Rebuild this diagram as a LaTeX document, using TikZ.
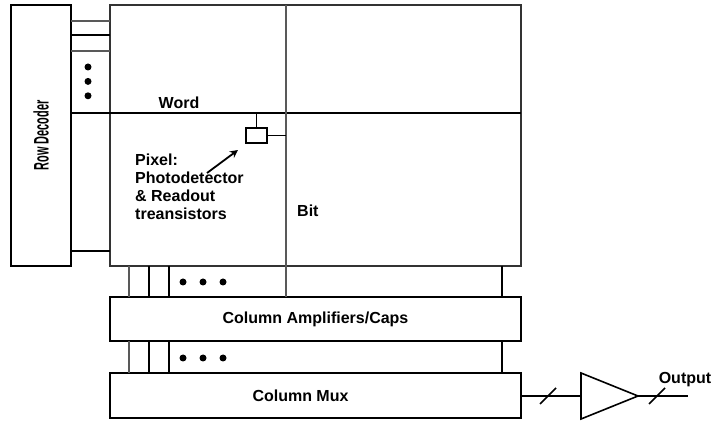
\documentclass[tikz,border=0pt]{standalone}
\usepackage{fontspec}
\setmainfont{Liberation Sans}
\usetikzlibrary{arrows.meta, positioning}

\begin{document}
\begin{tikzpicture}[x=1pt, y=-1pt,
  blk/.style={rectangle, draw=black, line width=1.6pt, inner sep=0pt, outer sep=0pt,
              font=\bfseries\fontsize{16}{18}\selectfont},
  wire/.style={line width=1.6pt, black},
  thin/.style={line width=1.2pt, black!65},
  lbl/.style={font=\bfseries\fontsize{16}{18}\selectfont, inner sep=0pt},
  dot/.style={circle, fill=black, inner sep=0pt, minimum size=7pt},
  arr/.style={-{Stealth[length=8pt, width=8pt]}, line width=1.8pt}]
  \useasboundingbox (0,0) rectangle (713,422);
  \node[blk, minimum width=60pt, minimum height=261pt] (rowdec) at (41,135.5)
    {\rotatebox{90}{\scalebox{0.52}[1]{\fontsize{21}{21}\selectfont Row Decoder}}};
  \node[blk, draw=black!80, minimum width=411pt, minimum height=261pt] (array) at (315.5,135.5) {};
  \node[blk, minimum width=411pt, minimum height=44pt] (amp) at (315.5,319) {Column Amplifiers/Caps};
  \node[blk, minimum width=411pt, minimum height=45pt] (mux) at (315.5,395.5) {\hspace*{-30pt}Column Mux};
  \node[blk, line width=1.3pt, minimum width=21pt, minimum height=15pt] (pixel) at (256.5,135.5) {};
  \draw[thin] (rowdec.east |- 0,21) -- (array.west |- 0,21);
  \draw[wire] (rowdec.east |- 0,35) -- (array.west |- 0,35);
  \draw[thin] (rowdec.east |- 0,51) -- (array.west |- 0,51);
  \draw[wire] (rowdec.east |- 0,113) -- (array.east |- 0,113);
  \draw[wire] (rowdec.east |- 0,251) -- (array.west |- 0,251);
  \node[dot] (rd1) at (88,67) {};
  \node[dot, below=7pt of rd1] (rd2) {};
  \node[dot, below=7pt of rd2] (rd3) {};
  \draw[thin] (286,0 |- array.north) -- (286,0 |- amp.north);
  \foreach \x/\s in {129/thin, 149/wire, 169/wire, 502/wire} {
    \draw[\s] (\x,0 |- array.south) -- (\x,0 |- amp.north);
    \draw[\s] (\x,0 |- amp.south) -- (\x,0 |- mux.north);
  }
  \foreach \x in {183,203,223} {
    \node[dot] at (\x,282) {};
    \node[dot] at (\x,358) {};
  }
  \draw[wire, line width=1.3pt] (pixel.north) -- (pixel.north |- 0,113);
  \draw[wire, line width=1.3pt] (pixel.east) -- (286,0 |- pixel.east);
  \node[lbl] (word) at (179,103) {Word};
  \node[lbl, anchor=west] (bit) at (297,211) {Bit};
  \node[lbl, anchor=north west, align=left] (pixtext) at (135,154)
    {Pixel:\\Photodetector\\\& Readout\\treansistors};
  \draw[arr] (207,173) -- (238,150);
  \coordinate (bufin) at (581,396);
  \coordinate (bufout) at (638,396);
  \draw[wire] (581,373) -- (581,419) -- (bufout) -- cycle;
  \draw[wire] (mux.east |- bufin) -- (bufin);
  \draw[wire] (bufout) -- (688,396);
  \draw[wire] (540,404) -- (556,388);
  \draw[wire] (649,404) -- (665,388);
  \node[lbl] (out) at (685,380) {Output};
\end{tikzpicture}
\end{document}
